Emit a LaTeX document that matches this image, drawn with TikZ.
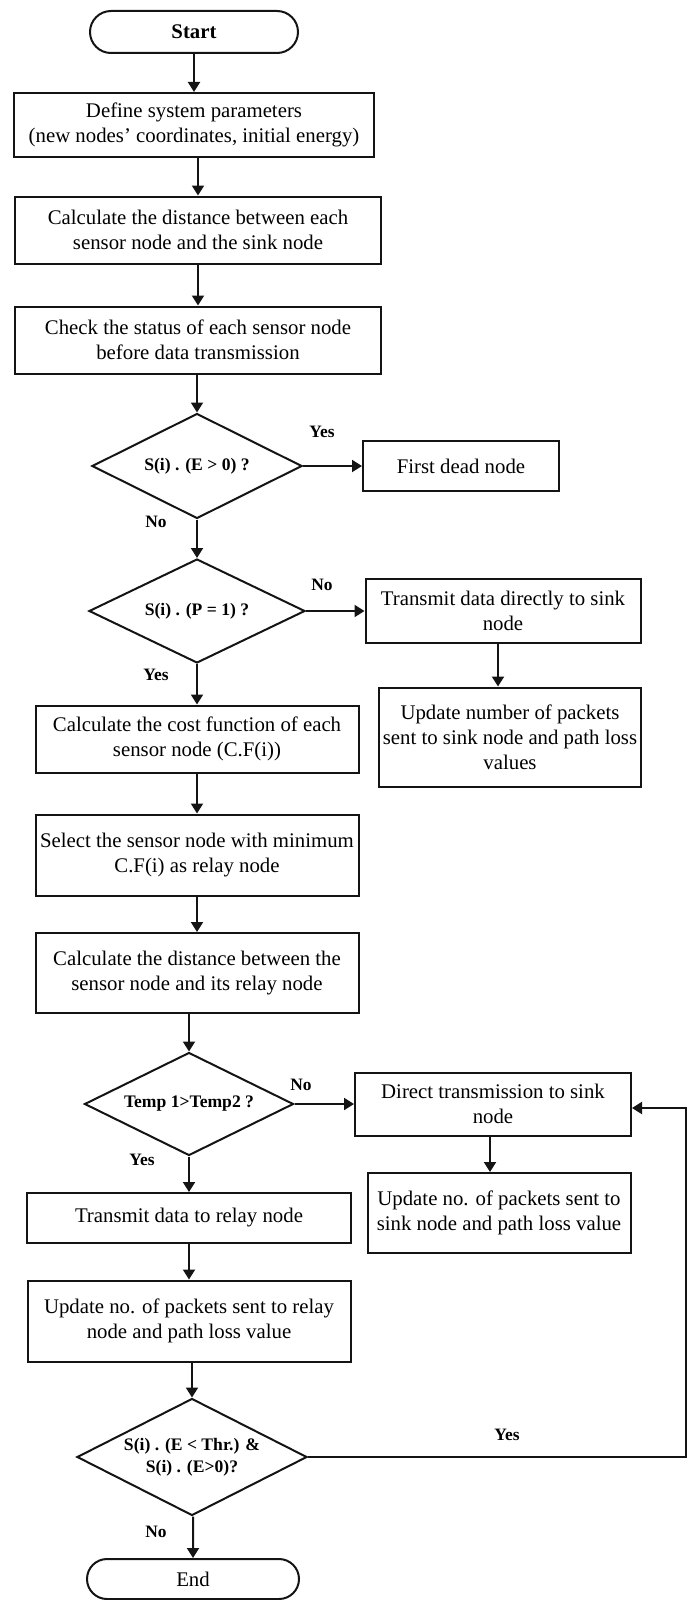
\documentclass[tikz,border=0pt]{standalone}
\usepackage{fontspec}
\setmainfont{Liberation Serif}
\usepackage{tikz}
\usetikzlibrary{positioning,arrows.meta,shapes.geometric,shapes.misc}
\definecolor{inkline}{RGB}{20,20,20}
\tikzset{
  blk/.style  ={draw=inkline, line width=1pt, fill=white, align=center,
                font=\fontsize{10.4}{12.6}\selectfont, inner sep=1.5pt},
  term/.style ={draw=inkline, line width=1pt, rounded rectangle, align=center,
                inner sep=1pt},
  dec/.style  ={draw=inkline, line width=1pt, diamond, shape aspect=2, align=center,
                inner sep=0pt, font=\bfseries\fontsize{8.8}{11}\selectfont},
  lbl/.style  ={font=\bfseries\fontsize{8.7}{10}\selectfont, inner sep=0pt},
  ar/.style   ={-{Triangle[length=5pt,width=6pt]}, draw=inkline, line width=1pt},
}
\begin{document}
\begin{tikzpicture}[x=0.5pt,y=-0.5pt]
\useasboundingbox (0,0) rectangle (688,1600);
% ---------- main column ----------
\node[term,minimum width=106pt,minimum height=21pt,font=\bfseries\fontsize{10.4}{12}\selectfont] (start) at (194,32) {Start};
\node[blk,minimum width=180pt,minimum height=32pt] (define) at (194,125)
  {Define system parameters\\(new nodes’ coordinates, initial energy)};
\node[blk,minimum width=183pt,minimum height=33.5pt] (dist) at (198,230)
  {Calculate the distance between each\\sensor node and the sink node};
\node[blk,minimum width=183pt,minimum height=33.5pt] (check) at (198,340)
  {Check the status of each sensor node\\before data transmission};
\node[dec,minimum width=105pt,minimum height=52.5pt] (alive) at (197,466) {S(i) . (E > 0) ?};
\node[dec,minimum width=108pt,minimum height=52pt] (mode) at (197,611) {S(i) . (P = 1) ?};
\node[blk,minimum width=161.5pt,minimum height=33.5pt] (cost) at (197,739)
  {Calculate the cost function of each\\sensor node (C.F(i))};
\node[blk,minimum width=161.5pt,minimum height=40.5pt] (select) at (197,855)
  {Select the sensor node with minimum\\C.F(i) as relay node};
\node[blk,minimum width=161.5pt,minimum height=40pt] (reldist) at (197,973)
  {Calculate the distance between the\\sensor node and its relay node};
\node[dec,minimum width=104.5pt,minimum height=51.5pt] (temp) at (189,1104) {Temp 1>Temp2 ?};
\node[blk,minimum width=162pt,minimum height=25pt] (torelay) at (189,1218)
  {Transmit data to relay node};
\node[blk,minimum width=161.5pt,minimum height=40.5pt] (updrelay) at (189,1321)
  {Update no. of packets sent to relay\\node and path loss value};
\node[dec,minimum width=115pt,minimum height=58.5pt] (thr) at (192,1457)
  {S(i) . (E < Thr.) \&\\S(i) . (E>0)?};
\node[term,minimum width=108pt,minimum height=20pt,font=\fontsize{10.4}{12}\selectfont] (stop) at (193,1579) {End};

% ---------- right column ----------
\node[blk,minimum width=98pt,minimum height=25pt] (dead) at (461,466) {First dead node};
\node[blk,minimum width=137.5pt,minimum height=32pt] (direct) at (503,611)
  {Transmit data directly to sink\\node};
\node[blk,minimum width=131pt,minimum height=49.5pt] (upddirect) at (510,737)
  {Update number of packets\\sent to sink node and path loss\\values};
\node[blk,minimum width=138pt,minimum height=31.5pt] (direct2) at (493,1104)
  {Direct transmission to sink\\node};
\node[blk,minimum width=131.5pt,minimum height=40pt] (upddirect2) at (499,1213)
  {Update no. of packets sent to\\sink node and path loss value};

% ---------- labels ----------
\node[lbl] (yes1) at (322,432) {Yes};
\node[lbl] (no1) at (156,522) {No};
\node[lbl] (no2) at (322,585) {No};
\node[lbl] (yes2) at (156,675) {Yes};
\node[lbl] (no3) at (301,1085) {No};
\node[lbl] (yes3) at (142,1160) {Yes};
\node[lbl] (yes4) at (507,1435) {Yes};
\node[lbl] (no4) at (156,1532) {No};

% ---------- connectors ----------
\draw[ar] (start) -- (start |- define.north);
\draw[ar] (define.south -| dist) -- (dist);
\draw[ar] (dist) -- (check);
\draw[ar] (check.south -| alive) -- (alive);
\draw[ar] (alive) -- (mode);
\draw[ar] (mode) -- (cost);
\draw[ar] (cost) -- (select);
\draw[ar] (select) -- (reldist);
\draw[ar] (reldist.south -| temp) -- (temp);
\draw[ar] (temp) -- (torelay);
\draw[ar] (torelay) -- (updrelay);
\draw[ar] (updrelay.south -| thr) -- (thr);
\draw[ar] (thr.south -| stop) -- (stop);
\draw[ar] (alive) -- (dead);
\draw[ar] (mode) -- (direct);
\draw[ar] ([xshift=-2.5pt]direct.south) -- ([xshift=-2.5pt]direct.south |- upddirect.north);
\draw[ar] (temp) -- (direct2);
\draw[ar] ([xshift=-1.5pt]direct2.south) -- ([xshift=-1.5pt]direct2.south |- upddirect2.north);
\coordinate (loopdown) at (686,1457);
\coordinate (loopup) at (686,1108);
\draw[ar] (thr.east) -- (loopdown) -- (loopup) -- (direct2.east |- loopup);
\end{tikzpicture}
\end{document}
